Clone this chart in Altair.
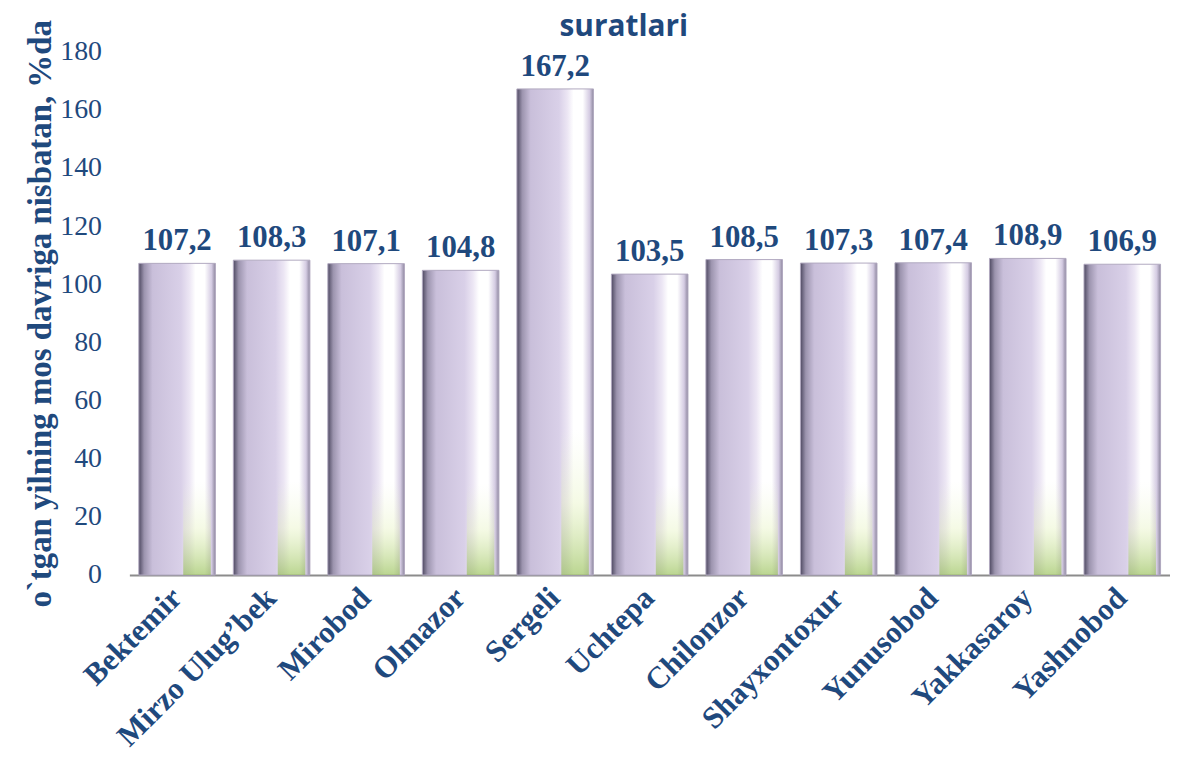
import altair as alt
import pandas as pd

districts = ["Bektemir", "Mirzo Ulug’bek", "Mirobod", "Olmazor", "Sergeli", "Uchtepa",
             "Chilonzor", "Shayxontoxur", "Yunusobod", "Yakkasaroy", "Yashnobod"]
values = [107.2, 108.3, 107.1, 104.8, 167.2, 103.5, 108.5, 107.3, 107.4, 108.9, 106.9]
value_labels = ["107,2", "108,3", "107,1", "104,8", "167,2", "103,5",
                "108,5", "107,3", "107,4", "108,9", "106,9"]
y_ticks = [0, 20, 40, 60, 80, 100, 120, 140, 160, 180]
title_text = "suratlari"
y_title = "o`tgan yilning mos davriga nisbatan, %da"

df = pd.DataFrame({"district": districts, "value": values, "label": value_labels})

BLUE = "#1F497D"
SERIF = "Liberation Serif"

body_grad = alt.Gradient(
    gradient="linear", x1=0, x2=1, y1=0, y2=0,
    stops=[
        alt.GradientStop(color="#4f4a62", offset=0.0),
        alt.GradientStop(color="#9c94ae", offset=0.07),
        alt.GradientStop(color="#c9bfda", offset=0.18),
        alt.GradientStop(color="#d9d0e8", offset=0.55),
        alt.GradientStop(color="#ece6f4", offset=0.66),
        alt.GradientStop(color="#ffffff", offset=0.74),
        alt.GradientStop(color="#ffffff", offset=0.86),
        alt.GradientStop(color="#d4cbe2", offset=0.95),
        alt.GradientStop(color="#8f88a0", offset=1.0),
    ],
)

green_grad = alt.Gradient(
    gradient="linear", x1=0, x2=0, y1=0, y2=1,
    stops=[
        alt.GradientStop(color="rgba(235,245,210,0)", offset=0.0),
        alt.GradientStop(color="rgba(235,245,210,0)", offset=0.7),
        alt.GradientStop(color="rgba(225,240,180,0.35)", offset=0.85),
        alt.GradientStop(color="rgba(140,185,70,0.6)", offset=1.0),
    ],
)

x_enc = alt.X(
    "district:N", sort=districts,
    scale=alt.Scale(paddingInner=0.19, paddingOuter=0.1),
    axis=alt.Axis(
        title=None, labelAngle=-45, labelAlign="right", labelBaseline="middle",
        labelFont=SERIF, labelFontWeight="bold", labelFontSize=31,
        labelColor=BLUE, labelPadding=18, ticks=False,
        domainColor="#8c8c8c", domainWidth=2, labelLimit=400,
    ),
)
y_enc = alt.Y(
    "value:Q",
    scale=alt.Scale(domain=[0, 180], nice=False),
    axis=alt.Axis(
        values=y_ticks, grid=False, domain=False, ticks=False,
        labelFont=SERIF, labelFontSize=28, labelColor=BLUE,
        labelPadding=28, title=y_title, titleFont=SERIF,
        titleFontWeight="bold", titleFontSize=33, titleColor=BLUE,
        titlePadding=2,
    ),
)

base = alt.Chart(df).encode(x=x_enc, y=y_enc)

bars = base.mark_bar(color=body_grad, stroke="#b0a8c0", strokeWidth=1)
green = base.mark_bar(color=green_grad, width=alt.RelativeBandSize(0.36), xOffset=20)
text = base.mark_text(
    baseline="bottom", dy=-6, font=SERIF, fontWeight="bold",
    fontSize=31, color=BLUE,
).encode(text="label:N")

chart = alt.layer(bars, green, text).properties(
    width=1046, height=526,
    title=alt.TitleParams(
        title_text, font="Open Sans", fontWeight="bold", fontSize=30,
        color=BLUE, anchor="middle", dx=-26, offset=-22,
    ),
    autosize=alt.AutoSizeParams(type="none"),
    padding={"left": 122, "top": 42, "right": 0, "bottom": 185},
    background="white",
).configure_view(stroke=None).configure_axis(titleFont=SERIF)

chart.save("out.html", embed_options={"renderer": "svg", "actions": False})
